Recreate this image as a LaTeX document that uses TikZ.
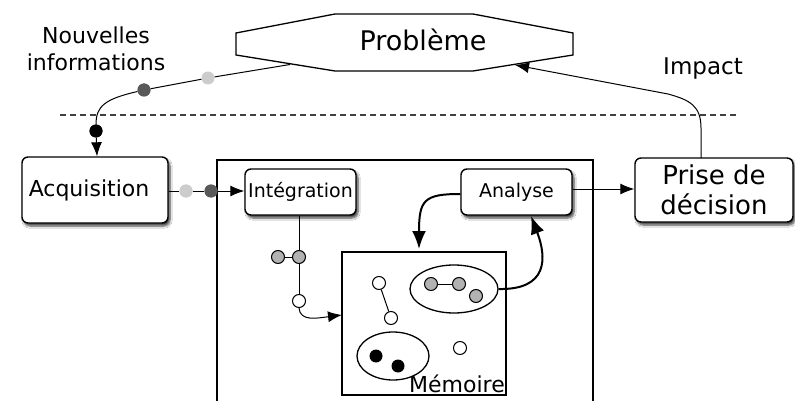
\documentclass[tikz,border=0pt]{standalone}
\usepackage{fontspec}
\setmainfont{DejaVu Sans}
\usetikzlibrary{arrows.meta,shadows.blur,shapes.geometric}
\begin{document}
\begin{tikzpicture}[x=1pt,y=-1pt,
  box/.style={draw, line width=1.4pt, rounded corners=6pt, fill=white, inner sep=0pt,
    blur shadow={shadow xshift=2pt, shadow yshift=-3pt, shadow blur steps=6, shadow opacity=75}},
  ln/.style={line width=1pt},
  thk/.style={line width=2pt},
  arr/.style={-{Latex[length=14pt,width=11pt]}},
  arrk/.style={-{Latex[length=18pt,width=14pt]}},
  dot/.style={circle, inner sep=0pt, minimum size=13pt},
  mnode/.style={circle, draw, line width=1pt, inner sep=0pt, minimum size=13pt},
]
\useasboundingbox (0,0) rectangle (795,401);
\fill[white] (0,0) rectangle (795,401);

% Probleme
\draw[line width=1.3pt, fill=white] (236,33) -- (335,14) -- (473,14) -- (573,33) -- (573,55) -- (473,71) -- (335,71) -- (236,55) -- cycle;
\node[font=\fontsize{27}{30}\selectfont] (pb) at (423,40) {Problème};
\coordinate (pbout) at (290,64.5);
\coordinate (pbin) at (515,65);

% text labels
\node[align=center, font=\fontsize{22}{27}\selectfont] (nouv) at (96,49) {Nouvelles\\informations};
\node[font=\fontsize{23}{26}\selectfont] (impact) at (703,69) {Impact};

% dashed line
\coordinate (dl) at (60,115);
\coordinate (dr) at (737,115);
\draw[line width=1.3pt, dash pattern=on 6pt off 4pt, black!75] (dl) -- (dr);

% boxes
\draw[line width=1.3pt] (217,410) -- (217,160) -- (593,160) -- (593,410);
\node[box, minimum width=146pt, minimum height=66pt, font=\fontsize{22}{26}\selectfont] (acq) at (95,190) {Acquisition\hspace*{12pt}};
\node[box, minimum width=111pt, minimum height=46pt, font=\fontsize{19}{22}\selectfont] (int) at (300.5,192) {Intégration};
\node[box, minimum width=111pt, minimum height=46pt, font=\fontsize{19}{22}\selectfont] (ana) at (516.5,192) {Analyse};
\node[box, minimum width=158pt, minimum height=64pt, align=center, font=\fontsize{26}{30}\selectfont] (pri) at (714,190) {Prise de\\décision};

% Memoire
\draw[line width=1.3pt] (342,252) rectangle (506,395);
\node[anchor=base east, inner sep=0pt, font=\fontsize{22}{24}\selectfont] (mem) at (505,392) {Mémoire};

% incoming information connector
\node[dot, fill=black!20] (d1) at (208,78) {};
\node[dot, fill=black!65] (d2) at (144,90) {};
\node[dot, fill=black] (d3) at (96,131) {};
\draw[ln] (pbout) -- (d1) -- (d2);
\draw[ln] (d2) .. controls (105,99) and (96,106) .. (d3);
\draw[ln, arr] (d3) -- (acq.north -| 97,0);
\node[dot, fill=black!65] at (144,90) {};
\node[dot, fill=black] at (96,131) {};

% acquisition -> integration
\node[dot, fill=black!20] (d4) at (186,191) {};
\node[dot, fill=black!65] (d5) at (211,191) {};
\draw[ln] (acq.east |- 0,191) -- (d4) -- (d5);
\draw[ln, arr] (d5) -- (int.west |- 0,191);
\node[dot, fill=black!20] at (186,191) {};
\node[dot, fill=black!65] at (211,191) {};

% analyse -> prise
\draw[ln, arr] (ana.east |- 0,189) -- (pri.west |- 0,189);

% impact
\coordinate (pt) at (701,158);
\draw[ln, arr] (pt) -- (701,128) .. controls (701,106) and (690,100) .. (668,94) -- (pbin);

% integration -> memory
\node[mnode, fill=black!30] (g1) at (299,257) {};
\node[mnode, fill=black!30] (g0) at (278,257) {};
\node[mnode, fill=white] (w0) at (299,301) {};
\draw[ln] (int.south -| 299,0) -- (g1);
\draw[ln] (g0) -- (g1) -- (w0);
\draw[ln, arr] (w0.south) .. controls (300,322) and (318,318) .. (342,315);

% inside memory
\node[mnode, fill=white] (w1) at (379,283) {};
\node[mnode, fill=white] (w2) at (391,318) {};
\draw[ln] (w1) -- (w2);
\node[ellipse, draw, line width=1.3pt, minimum width=88pt, minimum height=48pt, inner sep=0pt] (e1) at (454,289) {};
\node[mnode, fill=black!30] (g2) at (431,284) {};
\node[mnode, fill=black!30] (g3) at (459,284) {};
\node[mnode, fill=black!30] (g4) at (476,296) {};
\draw[ln] (g2) -- (g3);
\node[ellipse, draw, line width=1.3pt, minimum width=72pt, minimum height=48pt, inner sep=0pt] (e2) at (393,356) {};
\node[dot, fill=black] (b1) at (376,356) {};
\node[dot, fill=black] (b2) at (398,366) {};
\node[mnode, fill=white] (w3) at (460,348) {};

% analyse <-> memory
\draw[thk, arrk] (ana.west |- 0,194) .. controls (424,194) and (419,200) .. (419,249);
\draw[thk, arrk] (e1.east) .. controls (548,290) and (547,258) .. (531,216);
\end{tikzpicture}
\end{document}
